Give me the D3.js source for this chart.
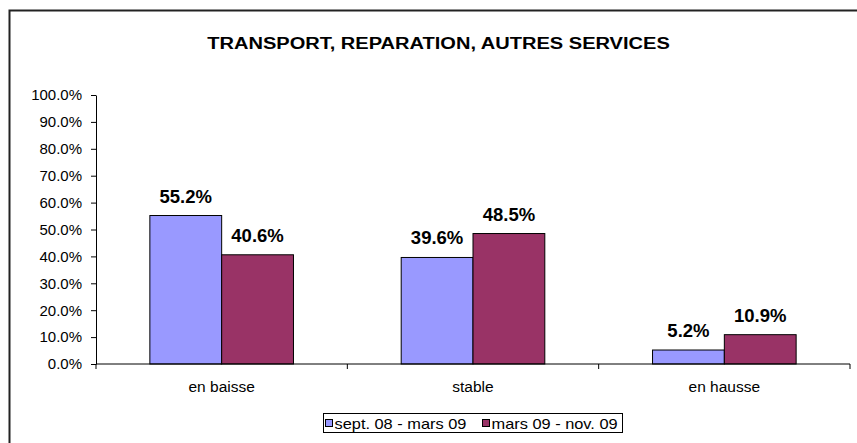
<!DOCTYPE html>
<head>
    <meta charset="UTF-8">
    <script src="https://d3js.org/d3.v7.min.js"></script>
    <style>
        body { margin: 0; background: white; }
        svg { display: block; font-family: "Liberation Sans", Arial, sans-serif; }
        .axis path, .axis line { stroke: black; }
        .axis text { font-size: 15px; fill: black; }
    </style>
</head>
<body>
    <svg id="chart" width="857" height="443"></svg>
    <script>
        const categories = ["en baisse", "stable", "en hausse"];
        const seriesNames = ["sept. 08 - mars 09", "mars 09 - nov. 09"];
        const sept08 = [55.2, 39.6, 5.2];
        const mars09 = [40.6, 48.5, 10.9];
        const yTicks = [0, 10, 20, 30, 40, 50, 60, 70, 80, 90, 100];
        const colors = ["#9999FF", "#993366"];

        const svg = d3.select("svg#chart");
        const margin = {top: 95, right: 7, bottom: 79, left: 96};
        const width = 857 - margin.left - margin.right;
        const height = 443 - margin.top - margin.bottom;

        // outer frame
        svg.append("rect")
            .attr("x", 9.5).attr("y", 10.5)
            .attr("width", 860).attr("height", 450)
            .attr("fill", "white")
            .attr("stroke", "#222")
            .attr("stroke-width", 2);

        svg.append("g")
            .attr("transform", "translate(438.5,49) scale(1.18,1)")
            .append("text")
            .attr("text-anchor", "middle")
            .style("font-size", "17px")
            .style("font-weight", "bold")
            .text("TRANSPORT, REPARATION, AUTRES SERVICES");

        const g = svg.append("g").attr("transform", `translate(${margin.left},${margin.top})`);

        const x = d3.scaleBand().domain(categories).range([0, width]);
        const x1 = d3.scaleBand().domain([0, 1]).range([x.bandwidth() * 0.2143, x.bandwidth() * 0.7857]);
        const y = d3.scaleLinear().domain([0, 100]).range([height, 0]);

        const yAxis = g.append("g").attr("class", "axis")
            .call(d3.axisLeft(y).tickValues(yTicks).tickSize(5).tickSizeOuter(0)
                .tickFormat(d => d.toFixed(1) + "%"));
        yAxis.selectAll("text").attr("x", -14);

        const data = categories.map((c, i) => ({cat: c, vals: [sept08[i], mars09[i]]}));

        const groups = g.selectAll(".grp")
            .data(data)
            .enter()
            .append("g")
            .attr("transform", d => `translate(${x(d.cat)},0)`);

        groups.selectAll("rect")
            .data(d => d.vals)
            .enter()
            .append("rect")
            .attr("x", (v, i) => x1(i))
            .attr("width", x1.bandwidth())
            .attr("y", v => y(v))
            .attr("height", v => height - y(v))
            .attr("fill", (v, i) => colors[i])
            .attr("stroke", "black")
            .attr("stroke-width", 1);

        groups.selectAll(".lbl")
            .data(d => d.vals)
            .enter()
            .append("text")
            .attr("x", (v, i) => x1(i) + x1.bandwidth() / 2)
            .attr("y", v => y(v) - 13)
            .attr("text-anchor", "middle")
            .style("font-size", "18.5px")
            .style("font-weight", "bold")
            .text(v => v.toFixed(1) + "%");

        // x axis with ticks at category boundaries
        const xAxis = g.append("g").attr("class", "axis")
            .attr("transform", `translate(0,${height})`);
        xAxis.append("line").attr("x1", 0).attr("x2", width).attr("stroke", "black");
        const bounds = [0].concat(categories.map(c => x(c) + x.bandwidth()));
        xAxis.selectAll(".tk")
            .data(bounds)
            .enter()
            .append("line")
            .attr("x1", d => d).attr("x2", d => d)
            .attr("y1", 0).attr("y2", 5)
            .attr("stroke", "black");
        xAxis.selectAll(".cl")
            .data(categories)
            .enter()
            .append("text")
            .attr("x", d => x(d) + x.bandwidth() / 2)
            .attr("y", 28)
            .attr("text-anchor", "middle")
            .style("font-size", "15.5px")
            .text(d => d);

        // legend
        const legend = svg.append("g").attr("transform", "translate(323.5,413.5)");
        legend.append("rect")
            .attr("width", 299).attr("height", 19)
            .attr("fill", "white").attr("stroke", "black");
        const offsets = [2, 159];
        seriesNames.forEach((s, i) => {
            legend.append("rect")
                .attr("x", offsets[i]).attr("y", 6)
                .attr("width", 7).attr("height", 7)
                .attr("fill", colors[i]).attr("stroke", "black");
            legend.append("g")
                .attr("transform", `translate(${offsets[i] + 9},15) scale(1.17,1)`)
                .append("text")
                .style("font-size", "14px")
                .text(s);
        });
    </script>
</body>
